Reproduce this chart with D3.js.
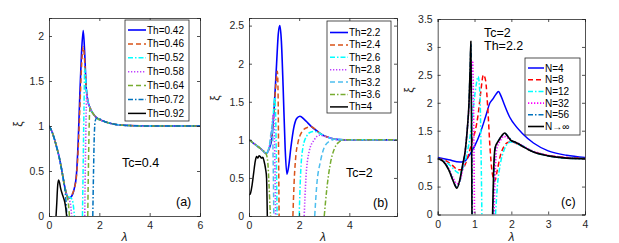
<!DOCTYPE html>
<html>
<head>
<meta charset="utf-8">
<script src="https://cdn.jsdelivr.net/npm/d3@7"></script>
<style>
  body { margin: 0; background: #fff; }
  svg { display: block; font-family: "Liberation Sans", Arial, sans-serif; }
</style>
</head>
<body>
<svg id="chart" width="619" height="243"></svg>
<script>
// ---- panel (a): Tc = 0.4 ----
const aStart = [[0,1],[0.1,0.95],[0.2,0.87],[0.3,0.77],[0.4,0.66],[0.5,0.52],[0.6,0.36],[0.7,0.24]];
const aTail = [[1.55,1.27],[1.62,1.21],[1.7,1.16],[1.8,1.12],[1.9,1.09],[2.2,1.05],[2.6,1.02],[3.2,1.005],[4,1],[6,1]];
const th042 = [[0.8,0.2],[0.9,0.22],[1.0,0.3],[1.09,0.46],[1.16,0.83],[1.22,1.31],[1.29,1.8],[1.36,2.06],[1.42,1.8],[1.48,1.42],[1.52,1.32]];
const th046 = [[0.8,0.2],[0.9,0.23],[1.0,0.3],[1.1,0.47],[1.17,0.8],[1.24,1.3],[1.3,1.7],[1.36,1.88],[1.41,1.75],[1.46,1.5],[1.51,1.34]];
const th052 = [[0.8,0.21],[0.88,0.2],[0.95,0.15],[0.99,0.06],[1.01,0],null,[1.33,0],[1.36,0.6],[1.39,1.2],[1.42,1.64],[1.46,1.5],[1.51,1.34]];
const th058 = [[0.76,0.2],[0.82,0.17],[0.87,0.1],[0.9,0],null,[1.42,0],[1.45,0.7],[1.48,1.2],[1.5,1.37],[1.53,1.3]];
const th064 = [[0.75,0.18],[0.79,0.08],[0.81,0],null,[1.54,0],[1.57,0.6],[1.6,1.05],[1.63,1.2],[1.67,1.18]];
const th072 = [[0.65,0.25],[0.69,0.1],[0.71,0],null,[1.74,0],[1.77,0.5],[1.8,0.9],[1.84,1.06],[1.9,1.09]];
const th092 = [[0.28,0],[0.31,0.15],[0.34,0.32],[0.38,0.4],[0.42,0.37],[0.46,0.31],[0.52,0.25],[0.58,0.2],[0.63,0.15],[0.67,0.08],[0.7,0]];

// ---- panel (b): Tc = 2 ----
const bStart = [[0,1],[0.2,0.95],[0.4,0.9],[0.55,0.86],[0.68,0.82]];
const bTail = [[2.5,1.17],[2.7,1.12],[2.9,1.07],[3.1,1.04],[3.4,1.01],[3.8,1],[6,1]];
const th22 = [[0.8,0.88],[0.9,1.0],[1.0,1.4],[1.1,2.0],[1.17,2.4],[1.23,2.5],[1.29,2.3],[1.36,1.7],[1.44,0.9],[1.51,0.55],[1.58,0.65],[1.67,0.9],[1.78,1.15],[1.9,1.28],[2.03,1.31],[2.2,1.27],[2.35,1.22]];
const th24 = [[0.8,0.89],[0.9,1.05],[1.0,1.4],[1.07,1.72],[1.13,1.9],[1.16,1.6],[1.18,0.8],[1.2,0],null,[1.75,0],[1.8,0.45],[1.87,0.8],[1.95,0.96],[2.1,1.1],[2.3,1.16]];
const th26 = [[0.8,0.9],[0.9,1.08],[0.97,1.35],[1.03,1.56],[1.07,1.2],[1.1,0.5],[1.12,0],null,[2.0,0],[2.05,0.5],[2.15,0.9],[2.3,1.05],[2.45,1.1],[2.6,1.11],[2.8,1.09]];
const th28 = [[0.8,0.9],[0.9,1.1],[0.97,1.34],[1.01,1.1],[1.04,0.5],[1.06,0],null,[2.2,0],[2.27,0.5],[2.4,0.85],[2.6,1.0],[2.8,1.06],[3.0,1.05]];
const th32 = [[0.8,0.9],[0.88,1.1],[0.93,1.2],[0.96,0.8],[0.98,0.3],[0.99,0],null,[2.62,0],[2.7,0.4],[2.85,0.72],[3.0,0.9],[3.2,0.98],[3.5,1.01]];
const th36 = [[0.75,0.7],[0.8,0.4],[0.84,0.1],[0.86,0],null,[3.0,0],[3.1,0.35],[3.25,0.7],[3.4,0.88],[3.55,0.96],[3.8,1.0]];
const th4 = [[0,0.28],[0.05,0.29],[0.12,0.4],[0.18,0.55],[0.25,0.72],[0.3,0.78],[0.35,0.76],[0.4,0.79],[0.45,0.78],[0.5,0.76],[0.55,0.77],[0.6,0.72],[0.66,0.62],[0.7,0.5],[0.72,0.2],[0.73,0]];

// ---- panel (c): Tc = 2, Th = 2.2 ----
const n4 = [[0,1.02],[0.3,0.98],[0.6,0.94],[0.72,0.95],[0.85,1.05],[1.0,1.22],[1.15,1.45],[1.3,1.75],[1.42,2.0],[1.5,2.07],[1.58,2.15],[1.65,2.2],[1.72,2.12],[1.82,1.95],[1.95,1.75],[2.1,1.6],[2.3,1.45],[2.6,1.28],[3.0,1.14],[3.5,1.06],[4,1.02]];
const n8 = [[0,1],[0.2,0.97],[0.4,0.88],[0.55,0.8],[0.65,0.8],[0.75,0.9],[0.85,1.1],[0.95,1.35],[1.02,1.5],[1.1,1.8],[1.17,2.2],[1.24,2.5],[1.3,2.4],[1.36,1.9],[1.42,1.2],[1.48,0.75],[1.55,0.6],[1.62,0.8],[1.7,1.05],[1.8,1.22],[1.9,1.29],[2.0,1.3],[2.2,1.25],[2.5,1.15],[3.0,1.06],[3.5,1.02],[4,1]];
const n12 = [[0,1],[0.2,0.95],[0.35,0.87],[0.5,0.77],[0.58,0.74],[0.68,0.82],[0.78,1.05],[0.88,1.4],[0.95,1.8],[1.02,2.2],[1.1,2.47],[1.15,2.1],[1.18,1.0],[1.2,0],null,[1.57,0],[1.62,0.5],[1.7,0.9],[1.8,1.15],[1.9,1.27],[1.98,1.3],[2.1,1.28],[2.3,1.22],[2.6,1.12],[3.0,1.05],[3.5,1.01],[4,1]];
const n32 = [[0,1],[0.15,0.96],[0.3,0.82],[0.42,0.65],[0.52,0.55],[0.6,0.6],[0.7,0.9],[0.8,1.5],[0.88,2.2],[0.95,2.75],[0.98,1.5],[1.0,0],null,[1.53,0],[1.56,0.7],[1.6,1.15],[1.7,1.32],[1.8,1.4],[1.9,1.37],[2.0,1.32],[2.2,1.27],[2.5,1.16],[3.0,1.06],[3.5,1.02],[4,1]];
const n56 = [[0,1],[0.15,0.95],[0.3,0.81],[0.42,0.61],[0.52,0.49],[0.6,0.6],[0.68,0.88],[0.75,1.15],[0.8,1.5],[0.85,2.0],[0.88,2.6],[0.905,3.05],[0.925,1.5],[0.94,0],null,[1.5,0],[1.53,0.8],[1.57,1.2],[1.66,1.33],[1.76,1.42],[1.83,1.45],[1.92,1.39],[2.02,1.32],[2.2,1.27],[2.5,1.15],[3.0,1.05],[3.5,1.01],[4,1]];
const nInf = [[0,1],[0.15,0.95],[0.3,0.8],[0.42,0.6],[0.52,0.47],[0.6,0.62],[0.68,0.9],[0.75,1.15],[0.8,1.5],[0.85,2.0],[0.88,2.6],[0.9,3.1],[0.92,1.5],[0.93,0],null,[1.49,0],[1.52,0.8],[1.56,1.2],[1.65,1.32],[1.75,1.42],[1.82,1.46],[1.9,1.4],[2.0,1.32],[2.1,1.3],[2.3,1.22],[2.6,1.12],[3.0,1.05],[3.5,1.01],[4,1]];

const labelsA = ["Th=0.42","Th=0.46","Th=0.52","Th=0.58","Th=0.64","Th=0.72","Th=0.92"];
const labelsB = ["Th=2.2","Th=2.4","Th=2.6","Th=2.8","Th=3.2","Th=3.6","Th=4"];
const labelsC = ["N=4","N=8","N=12","N=32","N=56","N\u2192\u221E"];

const after = (arr, x) => arr.filter(d => d[0] > x);

const seriesA = [
  aStart.concat(th042, aTail),
  aStart.concat(th046, aTail),
  aStart.concat(th052, aTail),
  aStart.concat(th058, aTail),
  aStart.concat(th064, after(aTail, 1.67)),
  aStart.slice(0, 7).concat(th072, after(aTail, 1.9)),
  th092
];
const seriesB = [
  bStart.concat(th22, bTail),
  bStart.concat(th24, bTail),
  bStart.concat(th26, after(bTail, 2.8)),
  bStart.concat(th28, after(bTail, 3.0)),
  bStart.concat(th32, after(bTail, 3.5)),
  bStart.concat(th36, after(bTail, 3.8)),
  th4
];
const seriesC = [n4, n8, n12, n32, n56, nInf];

// styles: MATLAB-ish line specs
const SOLID = null, DASH = "5,3", DASHDOT = "5,2,1.5,2", DOT = "1.3,1.7";
const stylesA = [
  { c: "#0000ff", d: SOLID, w: 1.6 },
  { c: "#d95319", d: DASH, w: 1.5 },
  { c: "#00ffff", d: DASHDOT, w: 1.5 },
  { c: "#bf40ff", d: DOT, w: 1.6 },
  { c: "#77ac30", d: DASH, w: 1.5 },
  { c: "#0072bd", d: DASHDOT, w: 1.5 },
  { c: "#000000", d: SOLID, w: 1.5 }
];
const stylesB = [
  { c: "#0000ff", d: SOLID, w: 1.6 },
  { c: "#d95319", d: DASH, w: 1.5 },
  { c: "#00ffff", d: DASHDOT, w: 1.5 },
  { c: "#bf40ff", d: DOT, w: 1.6 },
  { c: "#4dbeee", d: DASH, w: 1.5 },
  { c: "#77ac30", d: DASHDOT, w: 1.5 },
  { c: "#000000", d: SOLID, w: 1.5 }
];
const stylesC = [
  { c: "#0000ff", d: SOLID, w: 1.5 },
  { c: "#ff0000", d: DASH, w: 1.5 },
  { c: "#00ffff", d: DASHDOT, w: 1.5 },
  { c: "#ff00ff", d: DOT, w: 1.6 },
  { c: "#0072bd", d: DASHDOT, w: 1.5 },
  { c: "#000000", d: SOLID, w: 1.6 }
];

const svg = d3.select("#chart");
const AX = "#262626";

function panel(cfg) {
  const x = d3.scaleLinear().domain(cfg.xd).range([cfg.l, cfg.r]);
  const y = d3.scaleLinear().domain(cfg.yd).range([cfg.b, cfg.t]);
  const g = svg.append("g");
  const clipId = "clip" + cfg.name;
  g.append("clipPath").attr("id", clipId)
    .append("rect").attr("x", cfg.l).attr("y", cfg.t)
    .attr("width", cfg.r - cfg.l).attr("height", cfg.b - cfg.t);

  const line = d3.line()
    .defined(d => d !== null)
    .x(d => x(d[0])).y(d => y(d[1]))
    .curve(d3.curveMonotoneX);

  g.append("g").attr("clip-path", `url(#${clipId})`)
    .selectAll("path").data(cfg.series).enter().append("path")
    .attr("d", line)
    .attr("fill", "none")
    .attr("stroke", (d, i) => cfg.styles[i].c)
    .attr("stroke-width", (d, i) => cfg.styles[i].w)
    .attr("stroke-dasharray", (d, i) => cfg.styles[i].d)
    .attr("stroke-linejoin", "round");

  // axes with inward ticks on all four sides
  const tl = 3;
  g.append("g").attr("transform", `translate(0,${cfg.b})`)
    .call(d3.axisBottom(x).tickValues(cfg.xt).tickSize(-tl).tickPadding(6).tickFormat(d3.format("")));
  g.append("g").attr("transform", `translate(0,${cfg.t})`)
    .call(d3.axisTop(x).tickValues(cfg.xt).tickSize(-tl).tickFormat(""));
  g.append("g").attr("transform", `translate(${cfg.l},0)`)
    .call(d3.axisLeft(y).tickValues(cfg.yt).tickSize(-tl).tickPadding(5).tickFormat(d3.format("")));
  g.append("g").attr("transform", `translate(${cfg.r},0)`)
    .call(d3.axisRight(y).tickValues(cfg.yt).tickSize(-tl).tickFormat(""));
  g.selectAll(".domain").attr("stroke", AX).attr("stroke-width", 0.8);
  g.selectAll(".tick line").attr("stroke", AX).attr("stroke-width", 0.8);
  g.selectAll(".tick text").attr("fill", AX).style("font-size", "10.5px")
    .style("font-family", "'Liberation Sans', Arial, sans-serif");

  // axis labels
  g.append("text").attr("x", (cfg.l + cfg.r) / 2).attr("y", 241)
    .attr("text-anchor", "middle").attr("fill", AX)
    .style("font-size", "12px").style("font-style", "italic").text("\u03BB");
  g.append("text")
    .attr("transform", `translate(${cfg.yl[0]},${cfg.yl[1]}) rotate(-90)`)
    .attr("text-anchor", "middle").attr("fill", AX)
    .style("font-size", "12px").text("\u03BE");

  // legend
  const lg = cfg.legend;
  g.append("rect").attr("x", lg.x).attr("y", lg.y).attr("width", lg.w)
    .attr("height", lg.h).attr("fill", "#fff").attr("stroke", AX).attr("stroke-width", 0.8);
  cfg.labels.forEach((lab, i) => {
    const yy = lg.y + lg.first + i * lg.step;
    const s = cfg.styles[i];
    g.append("line").attr("x1", lg.x + 3).attr("x2", lg.x + 3 + lg.len)
      .attr("y1", yy).attr("y2", yy)
      .attr("stroke", s.c).attr("stroke-width", s.w).attr("stroke-dasharray", s.d);
    g.append("text").attr("x", lg.x + 4 + lg.len).attr("y", yy + 3.5)
      .attr("fill", "#000").style("font-size", "10px").text(lab);
  });

  // annotations
  cfg.notes.forEach(n => {
    g.append("text").attr("x", n.x).attr("y", n.y).attr("fill", "#000")
      .style("font-size", "12.5px").text(n.t);
  });
}

panel({
  name: "a", l: 49, r: 200, t: 18, b: 216, xd: [0, 6], yd: [0, 2.2],
  xt: [0, 2, 4, 6], yt: [0, 0.5, 1, 1.5, 2],
  series: seriesA, styles: stylesA, labels: labelsA, yl: [22, 124],
  legend: { x: 125, y: 20, w: 64, h: 101, first: 10, step: 13.9, len: 18 },
  notes: [{ x: 122, y: 167, t: "Tc=0.4" }, { x: 176, y: 206, t: "(a)" }]
});
panel({
  name: "b", l: 249, r: 397, t: 18, b: 216, xd: [0, 5.9], yd: [0, 2.6],
  xt: [0, 2, 4], yt: [0, 0.5, 1, 1.5, 2, 2.5],
  series: seriesB, styles: stylesB, labels: labelsB, yl: [219, 98],
  legend: { x: 327, y: 21, w: 64, h: 92, first: 11.5, step: 12.4, len: 18 },
  notes: [{ x: 346, y: 177, t: "Tc=2" }, { x: 373, y: 207, t: "(b)" }]
});
panel({
  name: "c", l: 437.7, r: 585, t: 19, b: 214.5, xd: [0, 4], yd: [0, 3.5],
  xt: [0, 1, 2, 3, 4], yt: [0, 0.5, 1, 1.5, 2, 2.5, 3, 3.5],
  series: seriesC, styles: stylesC, labels: labelsC, yl: [413, 90],
  legend: { x: 525, y: 58, w: 55, h: 77, first: 10, step: 11.7, len: 16 },
  notes: [{ x: 484, y: 37, t: "Tc=2" }, { x: 484, y: 50, t: "Th=2.2" }, { x: 561, y: 206, t: "(c)" }]
});
</script>
</body>
</html>
